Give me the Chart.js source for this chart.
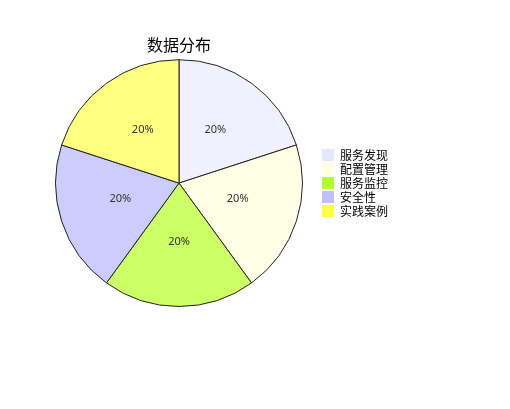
<!DOCTYPE html>
<html><head><meta charset="utf-8">
<script src="https://cdn.jsdelivr.net/npm/chart.js@4"></script>
<style>html,body{margin:0;padding:0;background:#fff;}#wrap{width:510px;height:409px;}</style>
</head><body><div id="wrap"><canvas id="c" width="510" height="409"></canvas></div>
<script>
const categories = ['服务发现','配置管理','服务监控','安全性','实践案例'];
const values = [20,20,20,20,20];
const sliceColors = ['#f0f0ff','#ffffe6','#ccff66','#ccccff','#ffff80'];
const legendColors = ['#e6e6fa','#ffffe0','#adff2f','#c0c0ff','#ffff40'];
const titleText = '数据分布';

const pctLabels = {
  id:'pctLabels',
  afterDatasetsDraw(chart){
    const ctx = chart.ctx;
    const meta = chart.getDatasetMeta(0);
    const data = chart.data.datasets[0].data;
    const total = data.reduce((a,b)=>a+b,0);
    ctx.save();
    ctx.font = '11px "Noto Sans", sans-serif';
    ctx.fillStyle = '#333';
    ctx.textAlign = 'center';
    ctx.textBaseline = 'middle';
    meta.data.forEach((arc,i)=>{
      const p = arc.getProps(['x','y','startAngle','endAngle','outerRadius'], true);
      const mid = (p.startAngle+p.endAngle)/2;
      const r = p.outerRadius*0.5;
      ctx.fillText(Math.round(data[i]/total*100)+'%', p.x+Math.cos(mid)*r, p.y+Math.sin(mid)*r-3);
    });
    ctx.restore();
  }
};

new Chart(document.getElementById('c'), {
  type:'pie',
  data:{labels:categories, datasets:[{data:values, backgroundColor:sliceColors, borderColor:'#222', borderWidth:1}]},
  options:{
    responsive:false, animation:false, devicePixelRatio:1,
    layout:{padding:{top:20,left:38,right:112,bottom:102}},
    plugins:{
      tooltip:{enabled:false},
      title:{display:true, text:titleText, fullSize:false, color:'#000',
        font:{size:16, family:'"Noto Sans CJK SC", sans-serif', weight:'normal'}, padding:{top:15,bottom:5}},
      legend:{position:'right', align:'center', fullSize:false,
        labels:{boxWidth:12, boxHeight:12, padding:2, color:'#000',
          font:{size:12, family:'"Noto Sans CJK SC", sans-serif'},
          generateLabels(chart){
            return chart.data.labels.map((l,i)=>({text:l, fillStyle:legendColors[i], strokeStyle:legendColors[i], lineWidth:0, hidden:false, index:i}));
          }}}
    }
  },
  plugins:[pctLabels]
});
</script></body></html>
